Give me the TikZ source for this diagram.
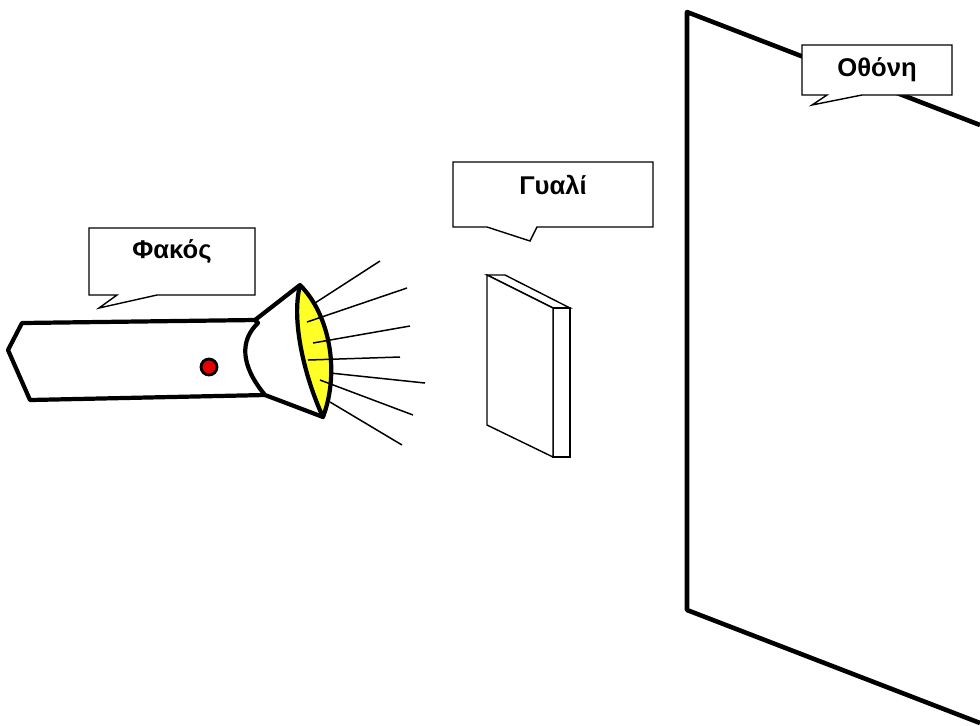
\documentclass[tikz,border=0pt]{standalone}
\usepackage{fontspec}
\setmainfont{Liberation Sans}
\usepackage{tikz}
\definecolor{lensyellow}{RGB}{255,255,40}
\definecolor{dotred}{RGB}{230,0,0}

\begin{document}
\begin{tikzpicture}[
    x=0.02cm, y=-0.02cm,
    heavy/.style={line width=2.4pt, line join=round, draw=black},
    ray/.style={line width=0.85pt, black},
    plate/.style={line width=0.8pt, draw=black, fill=white, line join=miter},
    callout/.style={line width=0.8pt, draw=black, fill=white},
    tag/.style={font=\bfseries\fontsize{14.6}{16}\selectfont, inner sep=0pt}
]
\useasboundingbox (0,0) rectangle (980,725);

% screen
\draw[heavy, line width=2.6pt] (980,125) -- (687,12) -- (687,610) -- (980,723);

% flashlight body
\draw[heavy, fill=white] (255,320) -- (22,323) -- (8,350) -- (30,400) -- (265,395);
\draw[heavy, fill=white] (255,320) -- (300,285) -- (323,417) -- (265,395)
    .. controls (240,365) and (240,340) .. (258,323) -- cycle;
\draw[heavy] (255,320) -- (258,323);

% lens
\draw[heavy, fill=lensyellow] (300,285) .. controls (330,315) and (340,372) .. (323,417)
    .. controls (308,385) and (290,325) .. (300,285);

% light rays
\draw[ray] (315,303) -- (380,261);
\draw[ray] (307,322) -- (407,288);
\draw[ray] (313,343) -- (410,326);
\draw[ray] (308,360) -- (400,357);
\draw[ray] (330,373) -- (425,383);
\draw[ray] (320,380) -- (413,415);
\draw[ray] (330,402) -- (402,445);

% switch
\draw[fill=dotred, line width=1.6pt] (209,367) circle (8);

% glass plate
\draw[plate] (487,275) -- (505,275) -- (570,308) -- (553,308) -- cycle;
\draw[plate] (553,308) -- (570,308) -- (570,457) -- (553,457) -- cycle;
\draw[plate] (487,275) -- (553,308) -- (553,457) -- (487,425) -- cycle;

% callouts
\draw[callout] (89,228) -- (255,228) -- (255,295) -- (157,295) -- (99,308)
    -- (117,295) -- (89,295) -- cycle;
\node[tag] (lamp) at (172,252) {Φακός};

\draw[callout] (453,162) -- (653,162) -- (653,227) -- (537,227) -- (530,241)
    -- (487,227) -- (453,227) -- cycle;
\node[tag] (glass) at (553,185) {Γυαλί};

\draw[callout] (802,45) -- (952,45) -- (952,95) -- (862,95) -- (812,105)
    -- (827,95) -- (802,95) -- cycle;
\node[tag] (screen) at (877,70) {Οθόνη};
\end{tikzpicture}
\end{document}
